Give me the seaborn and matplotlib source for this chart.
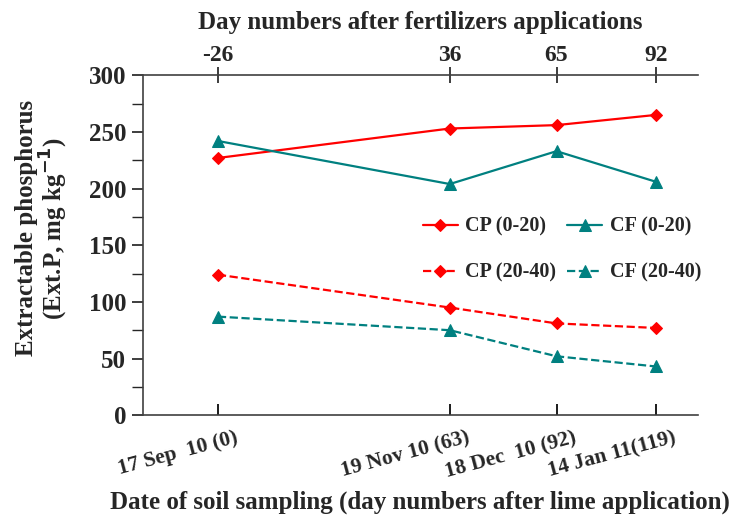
import numpy as np
import pandas as pd
import seaborn as sns
import matplotlib.pyplot as plt
from matplotlib.ticker import MultipleLocator
from matplotlib.transforms import ScaledTranslation

# days after lime application (bottom axis) and after fertilizers (top axis)
lime_days = [0, 63, 92, 119]
fert_days = [-26, 36, 65, 92]
date_labels = ["17 Sep  10 (0)", "19 Nov 10 (63)", "18 Dec  10 (92)", "14 Jan 11(119)"]

cp_0_20 = [227, 253, 256, 265]
cf_0_20 = [242, 204, 233, 206]
cp_20_40 = [124, 95, 81, 77]
cf_20_40 = [87, 75, 52, 43]

RED = "#FF0000"
TEAL = "#008080"

sns.set_theme(style="ticks")
plt.rcParams["font.family"] = ["Liberation Serif", "DejaVu Serif"]
plt.rcParams["font.weight"] = "bold"
plt.rcParams["mathtext.default"] = "bf"

fig = plt.figure(figsize=(7.44, 5.19), dpi=100)
ax = fig.add_axes([0.192, 0.200, 0.746, 0.655])

series = [
    ("CP (0-20)", cp_0_20, RED, "D", "-", 6.5),
    ("CP (20-40)", cp_20_40, RED, "D", "--", 6.5),
    ("CF (0-20)", cf_0_20, TEAL, "^", "-", 8),
    ("CF (20-40)", cf_20_40, TEAL, "^", "--", 8),
]
for name, vals, col, mk, ls, ms in series:
    sns.lineplot(x=lime_days, y=vals, ax=ax, color=col, marker=mk, linestyle=ls,
                 linewidth=1.6, markersize=ms, markeredgecolor=col, label=name)

ax.set_xlim(-20.4, 130.4)
ax.set_ylim(0, 300)
ax.yaxis.set_major_locator(MultipleLocator(50))
ax.yaxis.set_minor_locator(MultipleLocator(25))
ax.set_xticks(lime_days)
ax.set_xticklabels([])
# date labels sit a little right of their ticks, as in the original
shift = ScaledTranslation(22 / 100, -13 / 100, fig.dpi_scale_trans)
for d, lab in zip(lime_days, date_labels):
    ax.text(d, 0, lab, transform=ax.get_xaxis_transform() + shift,
            rotation=15, ha="right", va="top", fontsize=15.5, fontweight="bold")
ax.tick_params(axis="x", direction="in", length=8, colors="black")
ax.tick_params(axis="y", which="major", direction="out", length=8, labelsize=18, pad=4)
ax.tick_params(axis="y", which="minor", direction="out", length=8)
for lab in ax.get_yticklabels():
    lab.set_fontweight("bold")

ax.spines["right"].set_visible(False)
for s in ["left", "bottom", "top"]:
    ax.spines[s].set_color("#404040")
    ax.spines[s].set_linewidth(1.2)

top = ax.secondary_xaxis("top")
top.set_xticks(lime_days)
top.set_xticklabels([str(d) for d in fert_days], fontsize=17, fontweight="bold")
top.tick_params(direction="inout", length=12, pad=1)
top.spines["top"].set_visible(False)
top.set_xlabel("Day numbers after fertilizers applications", fontsize=18,
               fontweight="bold", labelpad=11)

ax.set_xlabel("Date of soil sampling (day numbers after lime application)",
              fontsize=18, fontweight="bold")
ax.xaxis.set_label_coords(0.5, -0.222)
ax.set_ylabel("Extractable phosphorus\n(Ext.P, mg kg$^{-1}$)", fontsize=18,
              fontweight="bold", linespacing=1.0)
ax.yaxis.set_label_coords(-0.132, 0.55)

handles, labels = ax.get_legend_handles_labels()
ax.legend(handles, labels, ncol=2, frameon=False, loc="center",
          bbox_to_anchor=(0.755, 0.487), handlelength=1.75,
          labelspacing=1.3, columnspacing=0.55, handletextpad=0.35,
          prop={"weight": "bold", "size": 14.5})

fig.savefig("out.png", dpi=100)
